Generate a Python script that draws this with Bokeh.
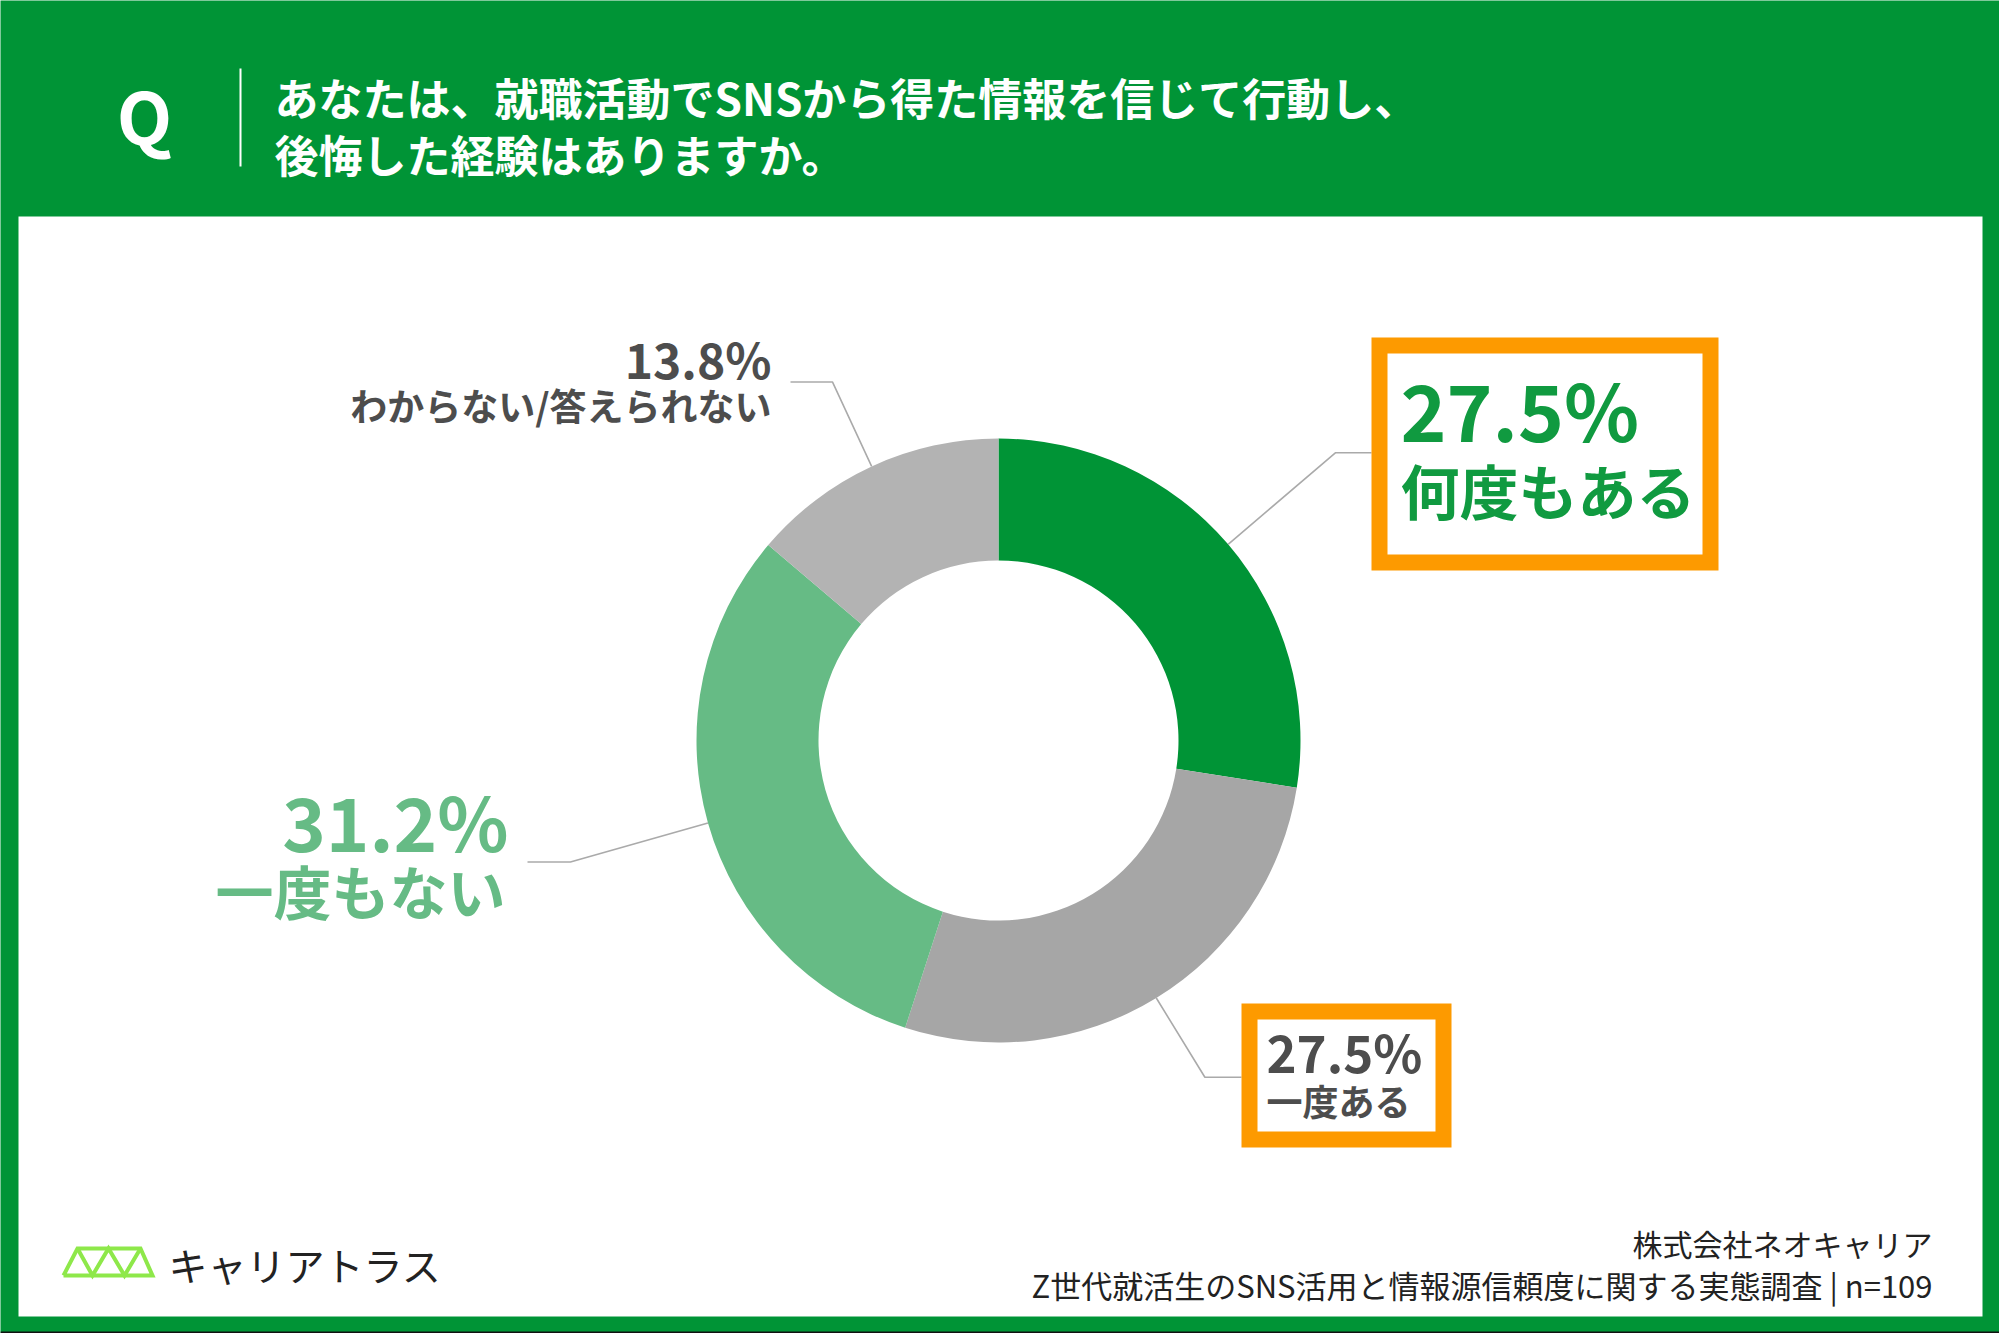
import math

from bokeh.core.properties import value
from bokeh.embed import file_html
from bokeh.models import Range1d
from bokeh.plotting import figure
from bokeh.resources import INLINE

# ---- data -------------------------------------------------------------
categories = ["何度もある", "一度ある", "一度もない", "わからない/答えられない"]
shares = [27.5, 27.5, 31.2, 13.8]
slice_colors = ["#009436", "#a6a6a6", "#66bb85", "#b3b3b3"]

question_lines = ["あなたは、就職活動でSNSから得た情報を信じて行動し、", "後悔した経験はありますか。"]
company = "株式会社ネオキャリア"
survey = "Z世代就活生のSNS活用と情報源信頼度に関する実態調査 | n=109"
brand = "キャリアトラス"

# ---- page geometry (pixel space, y measured from the top) --------------
W, H = 1999, 1333
GREEN = "#009436"
ORANGE = "#fd9a00"
DARK = "#4d4d4d"
LEAD = "#aaaaaa"
FONT = value("Noto Sans CJK JP")


def Y(py):
    return H - py


p = figure(width=W, height=H, x_range=Range1d(0, W), y_range=Range1d(0, H),
           output_backend="svg", toolbar_location=None, min_border=0,
           x_axis_type=None, y_axis_type=None)
p.grid.visible = False
p.outline_line_color = None
p.background_fill_color = GREEN
p.border_fill_color = GREEN

# white content panel and thin dark bottom edge
p.quad(left=18, right=1982, top=Y(216), bottom=Y(1316), fill_color="white", line_color=None)
p.quad(left=0, right=W, top=Y(1331), bottom=0, fill_color="#111111", line_color=None)

# ---- header ------------------------------------------------------------
p.text(x=[144], y=[Y(113)], text=["Q"], text_font=FONT, text_font_style="bold",
       text_font_size="72px", text_color="white", text_align="center", text_baseline="middle")
p.segment(x0=[240], y0=[Y(68)], x1=[240], y1=[Y(166)], line_color="white", line_width=2)
p.text(x=[274, 274], y=[Y(96), Y(153)], text=question_lines, text_font=FONT,
       text_font_style="bold", text_font_size="44px", text_color="white",
       text_align="left", text_baseline="middle")

# ---- donut -------------------------------------------------------------
cx, cy = 998, Y(740)
r_in, r_out = 180, 302
total = sum(shares)
cum = [0.0]
for v in shares:
    cum.append(cum[-1] + v / total)
starts = [math.pi / 2 - 2 * math.pi * f for f in cum[:-1]]
ends = [math.pi / 2 - 2 * math.pi * f for f in cum[1:]]
p.annular_wedge(x=[cx] * len(shares), y=[cy] * len(shares), inner_radius=r_in,
                outer_radius=r_out, start_angle=starts, end_angle=ends,
                direction="clock", fill_color=slice_colors, line_color=None)

# ---- leader lines: radial from slice midpoint, then horizontal ---------
elbow_r = [443, 395, 445, 395]
leader_end_x = [1371, 1241, 527, 790]
xs, ys = [], []
for i in range(len(shares)):
    mid = (cum[i] + cum[i + 1]) / 2
    a = math.pi / 2 - 2 * math.pi * mid
    x0, y0 = cx + r_out * math.cos(a), cy + r_out * math.sin(a)
    x1, y1 = cx + elbow_r[i] * math.cos(a), cy + elbow_r[i] * math.sin(a)
    xs.append([x0, x1, leader_end_x[i]])
    ys.append([y0, y1, y1])
p.multi_line(xs=xs, ys=ys, line_color=LEAD, line_width=1.6)

# ---- highlighted label boxes ------------------------------------------
p.quad(left=[1379, 1249], right=[1710, 1443], top=[Y(345), Y(1011)], bottom=[Y(562), Y(1139)],
       fill_color="white", line_color=ORANGE, line_width=16, line_join="miter")

pct = [f"{v:.1f}%" for v in shares]

# 何度もある
p.text(x=[1400], y=[Y(407)], text=[pct[0]], text_font=FONT, text_font_style="bold",
       text_font_size="78px", text_color="#109a40", text_align="left", text_baseline="middle")
p.text(x=[1400], y=[Y(489)], text=[categories[0]], text_font=FONT, text_font_style="bold",
       text_font_size="59px", text_color="#109a40", text_align="left", text_baseline="middle")

# 一度ある
p.text(x=[1266], y=[Y(1050)], text=[pct[1]], text_font=FONT, text_font_style="bold",
       text_font_size="51px", text_color=DARK, text_align="left", text_baseline="middle")
p.text(x=[1266], y=[Y(1099)], text=[categories[1]], text_font=FONT, text_font_style="bold",
       text_font_size="36px", text_color=DARK, text_align="left", text_baseline="middle")

# 一度もない
p.text(x=[508], y=[Y(819)], text=[pct[2]], text_font=FONT, text_font_style="bold",
       text_font_size="74px", text_color="#66bb85", text_align="right", text_baseline="middle")
p.text(x=[505], y=[Y(889)], text=[categories[2]], text_font=FONT, text_font_style="bold",
       text_font_size="58px", text_color="#66bb85", text_align="right", text_baseline="middle")

# わからない/答えられない
p.text(x=[771], y=[Y(357)], text=[pct[3]], text_font=FONT, text_font_style="bold",
       text_font_size="48px", text_color=DARK, text_align="right", text_baseline="middle")
p.text(x=[771], y=[Y(404)], text=[categories[3]], text_font=FONT, text_font_style="bold",
       text_font_size="37px", text_color=DARK, text_align="right", text_baseline="middle")

# ---- footer ------------------------------------------------------------
truss_green = "#8ee84a"
p.line(x=[63, 77, 140, 152, 63], y=[Y(1275), Y(1248), Y(1248), Y(1275), Y(1275)],
       line_color=truss_green, line_width=4, line_join="miter")
p.line(x=[77, 92, 108, 124, 140], y=[Y(1248), Y(1275), Y(1248), Y(1275), Y(1248)],
       line_color=truss_green, line_width=4, line_join="miter")
p.text(x=[168], y=[Y(1263)], text=[brand], text_font=FONT, text_font_size="39px",
       text_color="#222222", text_align="left", text_baseline="middle")

p.text(x=[1932], y=[Y(1242)], text=[company], text_font=FONT,
       text_font_size="30px", text_color="#222222", text_align="right", text_baseline="middle")
p.text(x=[1932], y=[Y(1284)], text=[survey], text_font=FONT,
       text_font_size="31px", text_color="#222222", text_align="right", text_baseline="middle")

open("out.html", "w").write(file_html(p, INLINE))
